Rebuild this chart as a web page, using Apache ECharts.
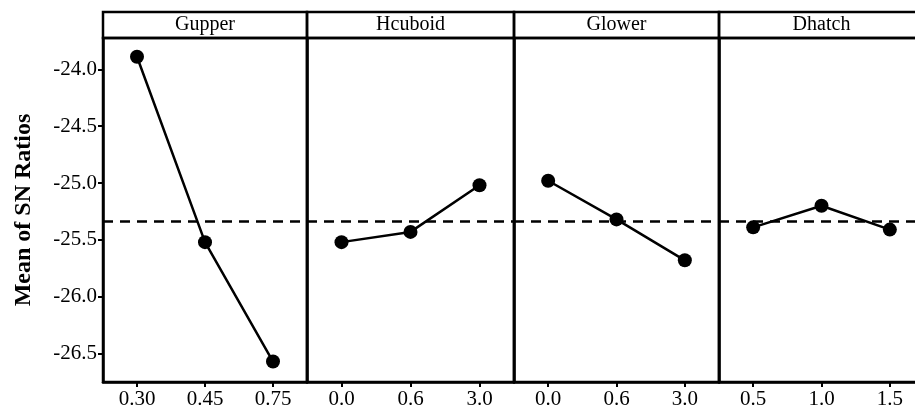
<!DOCTYPE html>
<html>
<head>
<meta charset="UTF-8">
<title>Main effects plot for SN ratios</title>
<script src="https://cdn.jsdelivr.net/npm/echarts@6/dist/echarts.min.js"></script>
<style>
  html, body { margin: 0; padding: 0; background: #fff; }
  #container { width: 915px; height: 414px; }
</style>
</head>
<body>
<div id="container"></div>
<script>
// factor names and their levels
var panels = ['Gupper', 'Hcuboid', 'Glower', 'Dhatch'];
var levels = [
    ['0.30', '0.45', '0.75'],
    ['0.0', '0.6', '3.0'],
    ['0.0', '0.6', '3.0'],
    ['0.5', '1.0', '1.5']
];

// mean of SN ratios
var gupper  = [-23.89, -25.52, -26.57];
var hcuboid = [-25.52, -25.43, -25.02];
var glower  = [-24.98, -25.32, -25.68];
var dhatch  = [-25.39, -25.20, -25.41];
var means = [gupper, hcuboid, glower, dhatch];

// grand mean (dashed line)
var overallMean = -25.34;

var yTicks = [-24.0, -24.5, -25.0, -25.5, -26.0, -26.5];
var yMin = -26.75, yMax = -23.725;

// panel layout (last panel runs past the right edge, as in the source image)
var lefts  = [103, 307, 514, 719];
var widths = [204, 207, 205, 205];

var FONT = '"Liberation Serif", "Times New Roman", serif';
var LW = 2.5;

var grids = [], xAxes = [], yAxes = [], series = [];

for (var i = 0; i < panels.length; i++) {
    // plot panel
    grids.push({
        left: lefts[i], width: widths[i], top: 38, bottom: 32,
        outerBoundsMode: 'none',
        show: true, borderColor: '#000', borderWidth: LW
    });
    xAxes.push({
        type: 'category', gridIndex: i, data: levels[i], boundaryGap: true,
        axisLine: { show: true, lineStyle: { color: '#000', width: LW } },
        axisTick: { show: true, alignWithLabel: true, length: 5, lineStyle: { color: '#000', width: 2 } },
        axisLabel: { color: '#000', fontFamily: FONT, fontSize: 21, margin: 7 },
        splitLine: { show: false }
    });
    yAxes.push({
        type: 'value', gridIndex: i, min: yMin, max: yMax,
        name: i === 0 ? 'Mean of SN Ratios' : '',
        nameLocation: 'middle', nameGap: 67,
        nameTextStyle: { color: '#000', fontFamily: FONT, fontSize: 24, fontWeight: 'bold' },
        axisLine: { show: true, lineStyle: { color: '#000', width: LW } },
        axisTick: { show: i === 0, length: 5, lineStyle: { color: '#000', width: 2 }, customValues: yTicks },
        axisLabel: {
            show: i === 0, color: '#000', fontFamily: FONT, fontSize: 21, margin: 6,
            customValues: yTicks,
            formatter: function (v) { return v.toFixed(1); }
        },
        splitLine: { show: false }
    });
    series.push({
        type: 'line', xAxisIndex: i, yAxisIndex: i,
        data: means[i],
        symbol: 'circle', symbolSize: 14,
        itemStyle: { color: '#000' },
        lineStyle: { color: '#000', width: LW },
        animation: false,
        markLine: {
            silent: true, symbol: 'none', label: { show: false },
            lineStyle: { color: '#000', width: LW, type: [10, 7] },
            data: [{ yAxis: overallMean }]
        }
    });
}

// header strips with the factor names
for (var j = 0; j < panels.length; j++) {
    var g = grids.length;
    grids.push({
        left: lefts[j], width: widths[j], top: 12, height: 26,
        outerBoundsMode: 'none',
        show: true, borderColor: '#000', borderWidth: LW
    });
    xAxes.push({
        type: 'category', gridIndex: g, data: [panels[j]],
        axisLine: { show: false }, axisTick: { show: false },
        axisLabel: { inside: true, margin: 3, color: '#000', fontFamily: FONT, fontSize: 20 }
    });
    yAxes.push({
        type: 'value', gridIndex: g, show: false
    });
}

var mychart = echarts.init(document.getElementById('container'));
mychart.setOption({
    backgroundColor: '#fff',
    animation: false,
    grid: grids,
    xAxis: xAxes,
    yAxis: yAxes,
    series: series
});
</script>
</body>
</html>
